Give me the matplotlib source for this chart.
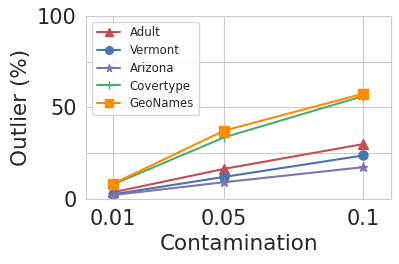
import matplotlib
matplotlib.use("Agg")
import matplotlib.pyplot as plt
import seaborn as sns

contamination = [0.01, 0.05, 0.1]
x_tick_labels = ["0.01", "0.05", "0.1"]

adult = [3.7, 16.5, 30.0]
vermont = [2.6, 12.1, 23.8]
arizona = [2.2, 9.2, 17.4]
covertype = [8.0, 33.7, 56.2]
geonames = [8.4, 37.4, 57.5]

series = [
    ("Adult", adult, "^", "#C44E52"),
    ("Vermont", vermont, "o", "#4C72B0"),
    ("Arizona", arizona, "*", "#8172B3"),
    ("Covertype", covertype, "+", "#55A868"),
    ("GeoNames", geonames, "s", "#FF8C00"),
]

sns.set_style("whitegrid")

fig, ax = plt.subplots(figsize=(3.99, 2.64), dpi=100)
for name, values, marker, color in series:
    ax.plot(contamination, values, marker=marker, color=color, label=name,
            markersize=6.5, linewidth=1.5)

ax.set_xlim(0.0003, 0.110)
ax.set_ylim(0, 100)
ax.set_xticks(contamination)
ax.set_xticklabels(x_tick_labels)
ax.set_yticks([0, 25, 50, 75, 100])
ax.set_yticklabels(["0", "", "50", "", "100"])
ax.tick_params(labelsize=15, colors="#262626")
ax.set_xlabel("Contamination", fontsize=15.5, color="#262626")
ax.set_ylabel("Outlier (%)", fontsize=15.5, color="#262626")
ax.legend(loc="upper left", fontsize=8.5, labelspacing=0.4, markerscale=0.85)

fig.subplots_adjust(left=0.216, right=0.98, top=0.94, bottom=0.246)
fig.savefig("out.png")
